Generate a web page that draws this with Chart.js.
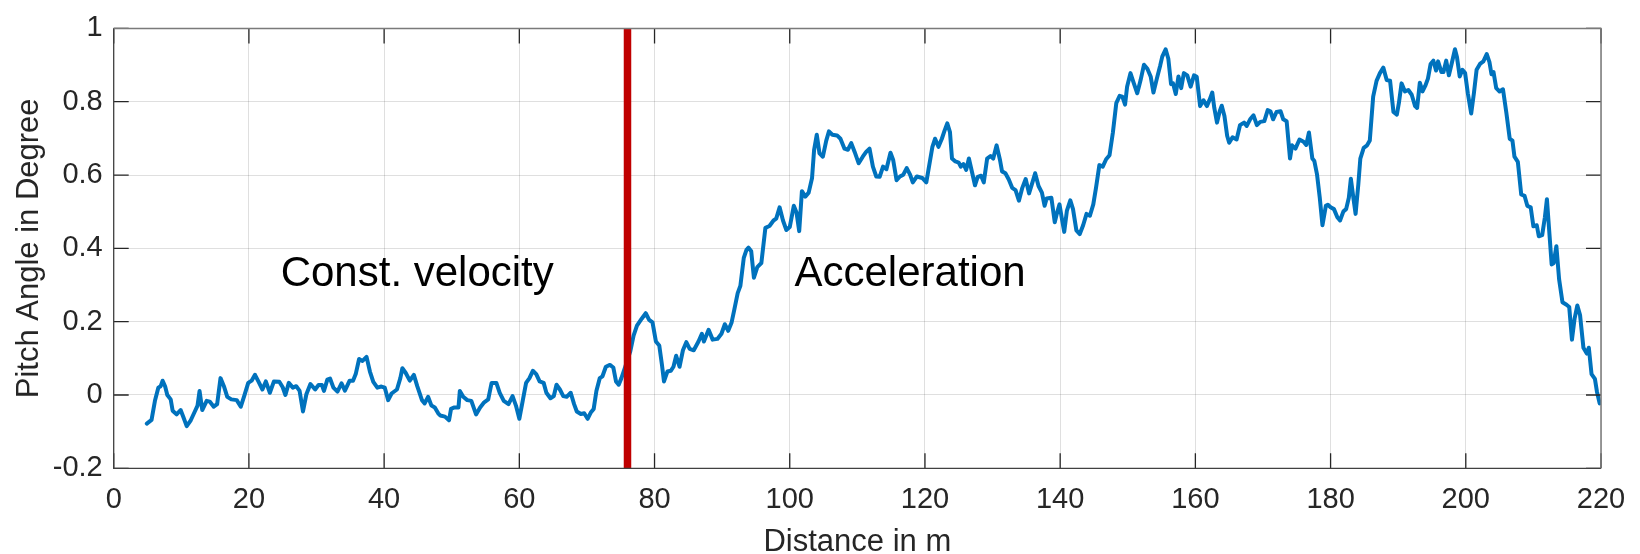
<!DOCTYPE html>
<html>
<head>
<meta charset="utf-8">
<script src="https://cdn.jsdelivr.net/npm/chart.js@4.4.0/dist/chart.umd.min.js"></script>
<style>
    html, body { margin: 0; padding: 0; background: #fff; }
    #wrap { width: 1640px; height: 554px; position: relative; }
</style>
</head>
<body>
<div id="wrap"><canvas id="pitch-chart"></canvas></div>
<script>
// Distance in m
const distance = [
    4.9, 5.6, 6.1, 6.6, 6.95, 7.24, 7.6, 7.93, 8.43, 8.72, 9.3, 9.9, 10.3, 10.8, 11.4, 12.0, 12.4, 12.7, 13.1, 13.75,
    14.2, 14.8, 15.3, 15.8, 16.3, 16.8, 17.4, 18.2, 18.8, 19.3, 19.9, 20.4, 20.9, 21.4, 22.0, 22.5, 23.1, 23.7, 24.5, 25.0,
    25.4, 25.9, 26.5, 27.0, 27.5, 28.0, 28.5, 29.1, 29.8, 30.3, 30.8, 31.1, 31.6, 32.0, 32.5, 33.1, 33.7, 34.2, 34.9, 35.4,
    35.8, 36.3, 36.8, 37.4, 37.9, 38.4, 39.0, 39.6, 40.1, 40.6, 41.1, 41.9, 42.4, 42.7, 43.2, 43.8, 44.4, 44.9, 45.6, 46.0,
    46.5, 47.0, 47.5, 48.0, 48.3, 49.0, 49.6, 49.9, 50.4, 51.0, 51.2, 51.7, 52.3, 52.9, 53.6, 54.2, 54.8, 55.4, 55.9, 56.6,
    57.1, 57.7, 58.4, 59.0, 59.5, 60.0, 60.5, 61.0, 61.5, 62.0, 62.5, 63.0, 63.6, 64.0, 64.6, 65.1, 65.5, 66.0, 66.5, 67.0,
    67.6, 68.1, 68.5, 69.1, 69.6, 70.1, 70.6, 71.0, 71.4, 71.9, 72.3, 72.8, 73.4, 73.9, 74.3, 74.7, 75.1, 75.6, 76.4, 76.9,
    77.4, 78.1, 78.7, 79.2, 79.7, 80.2, 80.7, 81.1, 81.4, 81.9, 82.4, 82.8, 83.2, 83.7, 84.2, 84.7, 85.2, 85.8, 86.5, 87.0,
    87.3, 88.0, 88.6, 89.3, 89.9, 90.4, 90.9, 91.4, 91.8, 92.3, 92.7, 93.2, 93.6, 93.9, 94.3, 94.7, 95.2, 95.8, 96.4, 97.0,
    97.6, 98.0, 98.5, 99.0, 99.5, 100.0, 100.6, 101.0, 101.4, 101.8, 102.3, 102.8, 103.3, 103.6, 104.0, 104.4, 104.9, 105.4, 105.8, 106.3,
    107.0, 107.5, 108.1, 108.6, 109.1, 109.6, 110.2, 110.8, 111.3, 111.8, 112.3, 112.8, 113.3, 113.8, 114.3, 114.9, 115.3, 115.8, 116.3, 116.8,
    117.3, 117.8, 118.2, 118.8, 119.6, 120.2, 120.7, 121.1, 121.5, 122.0, 122.5, 122.9, 123.3, 123.7, 124.0, 124.5, 125.0, 125.3, 125.7, 126.1,
    126.5, 127.0, 127.4, 127.8, 128.3, 128.7, 129.2, 129.7, 130.1, 130.6, 131.1, 131.4, 131.9, 132.4, 132.9, 133.4, 133.9, 134.4, 134.9, 135.4,
    135.9, 136.3, 136.8, 137.3, 137.7, 138.0, 138.7, 139.2, 139.5, 139.9, 140.3, 140.6, 141.0, 141.5, 141.9, 142.4, 142.9, 143.4, 143.9, 144.4,
    144.9, 145.3, 145.8, 146.3, 146.8, 147.3, 147.8, 148.3, 148.8, 149.2, 149.6, 149.9, 150.4, 150.9, 151.4, 151.9, 152.4, 152.9, 153.4, 153.8,
    154.3, 154.8, 155.1, 155.6, 156.0, 156.4, 156.7, 157.1, 157.5, 157.9, 158.3, 158.8, 159.3, 159.8, 160.2, 160.7, 161.2, 161.7, 162.1, 162.5,
    162.8, 163.2, 163.6, 163.9, 164.3, 164.7, 165.0, 165.5, 166.1, 166.6, 167.2, 167.6, 168.1, 168.6, 169.1, 169.6, 170.2, 170.7, 171.1, 171.5,
    172.0, 172.6, 173.0, 173.5, 174.0, 174.3, 174.8, 175.4, 176.0, 176.4, 176.8, 177.3, 177.6, 178.0, 178.4, 178.8, 179.3, 179.6, 180.0, 180.5,
    181.0, 181.4, 181.9, 182.3, 182.7, 183.0, 183.4, 183.7, 184.1, 184.4, 184.9, 185.4, 185.8, 186.3, 186.8, 187.3, 187.8, 188.3, 188.8, 189.3,
    189.8, 190.1, 190.5, 191.0, 191.5, 192.0, 192.5, 192.8, 193.2, 193.6, 194.0, 194.4, 194.8, 195.2, 195.6, 195.9, 196.4, 196.7, 197.1, 197.5,
    197.9, 198.4, 198.7, 199.1, 199.5, 199.9, 200.3, 200.8, 201.2, 201.6, 202.1, 202.6, 203.1, 203.5, 203.8, 204.1, 204.5, 205.0, 205.5, 206.0,
    206.5, 206.9, 207.2, 207.7, 208.2, 208.7, 209.1, 209.6, 210.0, 210.5, 210.8, 211.3, 211.7, 212.0, 212.3, 212.7, 213.0, 213.4, 213.8, 214.3,
    214.9, 215.3, 215.7, 216.1, 216.5, 216.9, 217.4, 217.9, 218.2, 218.6, 219.1, 219.4, 219.8
];

// Pitch angle in degree
const pitch = [
    -0.078, -0.068, -0.016, 0.02, 0.024, 0.039, 0.024, 0, -0.012, -0.043, -0.053, -0.041, -0.06, -0.085, -0.069, -0.045, -0.029, 0.011, -0.041, -0.016,
    -0.018, -0.032, -0.025, 0.046, 0.024, -0.005, -0.012, -0.014, -0.032, -0.003, 0.033, 0.039, 0.055, 0.037, 0.015, 0.037, 0.006, 0.037, 0.036, 0.021,
    0, 0.033, 0.02, 0.024, 0.011, -0.045, 0.002, 0.03, 0.015, 0.027, 0.027, 0.011, 0.042, 0.045, 0.02, 0.009, 0.032, 0.012, 0.039, 0.039,
    0.057, 0.098, 0.093, 0.104, 0.064, 0.036, 0.02, 0.023, 0.02, -0.014, 0.004, 0.015, 0.046, 0.073, 0.06, 0.039, 0.055, 0.024, -0.014, -0.023,
    -0.005, -0.029, -0.034, -0.05, -0.056, -0.059, -0.069, -0.038, -0.034, -0.034, 0.011, -0.005, -0.014, -0.016, -0.053, -0.034, -0.02, -0.012, 0.033, 0.033,
    0.006, -0.016, -0.025, -0.003, -0.029, -0.065, -0.016, 0.033, 0.046, 0.066, 0.057, 0.037, 0.033, 0.006, -0.009, -0.003, 0.028, 0.015, -0.003, -0.005,
    0.006, -0.025, -0.045, -0.052, -0.05, -0.065, -0.047, -0.038, 0.011, 0.046, 0.051, 0.077, 0.082, 0.075, 0.037, 0.028, 0.046, 0.073, 0.118, 0.162,
    0.189, 0.208, 0.223, 0.205, 0.198, 0.146, 0.135, 0.082, 0.037, 0.064, 0.066, 0.077, 0.107, 0.077, 0.122, 0.144, 0.126, 0.122, 0.146, 0.167,
    0.146, 0.178, 0.151, 0.153, 0.167, 0.193, 0.175, 0.198, 0.233, 0.278, 0.298, 0.374, 0.396, 0.402, 0.392, 0.32, 0.349, 0.36, 0.456, 0.461,
    0.476, 0.481, 0.512, 0.476, 0.45, 0.458, 0.516, 0.498, 0.447, 0.556, 0.541, 0.552, 0.592, 0.668, 0.71, 0.659, 0.65, 0.694, 0.719, 0.71,
    0.708, 0.699, 0.672, 0.669, 0.687, 0.663, 0.632, 0.65, 0.663, 0.672, 0.623, 0.596, 0.595, 0.623, 0.616, 0.661, 0.641, 0.586, 0.596, 0.601,
    0.619, 0.601, 0.58, 0.596, 0.592, 0.58, 0.634, 0.677, 0.699, 0.677, 0.699, 0.721, 0.741, 0.717, 0.645, 0.637, 0.634, 0.623, 0.63, 0.614,
    0.645, 0.605, 0.572, 0.595, 0.598, 0.58, 0.645, 0.652, 0.645, 0.681, 0.641, 0.61, 0.605, 0.588, 0.565, 0.559, 0.53, 0.565, 0.589, 0.55,
    0.58, 0.605, 0.57, 0.552, 0.516, 0.536, 0.538, 0.471, 0.494, 0.52, 0.476, 0.445, 0.503, 0.531, 0.507, 0.449, 0.439, 0.463, 0.494, 0.489,
    0.52, 0.565, 0.627, 0.623, 0.643, 0.654, 0.716, 0.796, 0.816, 0.814, 0.792, 0.841, 0.878, 0.85, 0.823, 0.859, 0.901, 0.89, 0.868, 0.825,
    0.863, 0.899, 0.923, 0.943, 0.917, 0.848, 0.85, 0.821, 0.869, 0.837, 0.878, 0.872, 0.841, 0.872, 0.868, 0.788, 0.804, 0.788, 0.805, 0.825,
    0.783, 0.743, 0.774, 0.789, 0.761, 0.707, 0.688, 0.703, 0.697, 0.736, 0.743, 0.734, 0.752, 0.763, 0.736, 0.745, 0.747, 0.777, 0.774, 0.752,
    0.772, 0.774, 0.752, 0.747, 0.645, 0.681, 0.672, 0.697, 0.691, 0.682, 0.716, 0.645, 0.638, 0.601, 0.538, 0.463, 0.516, 0.519, 0.512, 0.507,
    0.485, 0.476, 0.501, 0.507, 0.538, 0.59, 0.534, 0.494, 0.574, 0.645, 0.674, 0.681, 0.694, 0.814, 0.857, 0.878, 0.893, 0.859, 0.857, 0.772,
    0.765, 0.796, 0.85, 0.828, 0.832, 0.819, 0.788, 0.783, 0.852, 0.828, 0.843, 0.863, 0.903, 0.912, 0.885, 0.91, 0.881, 0.881, 0.912, 0.872,
    0.903, 0.943, 0.921, 0.869, 0.887, 0.878, 0.823, 0.768, 0.823, 0.887, 0.903, 0.91, 0.93, 0.908, 0.875, 0.881, 0.837, 0.828, 0.834, 0.77,
    0.699, 0.694, 0.65, 0.636, 0.547, 0.543, 0.516, 0.512, 0.46, 0.463, 0.433, 0.436, 0.485, 0.534, 0.458, 0.356, 0.36, 0.406, 0.316, 0.253,
    0.246, 0.24, 0.151, 0.209, 0.244, 0.218, 0.129, 0.113, 0.129, 0.057, 0.044, 0.009, -0.023
];

const xTicks = [0, 20, 40, 60, 80, 100, 120, 140, 160, 180, 200, 220];
const yTicks = [-0.2, 0, 0.2, 0.4, 0.6, 0.8, 1];

// phase boundary and labels
const phaseChangeAt = 76;
const phaseLabels = ['Const. velocity', 'Acceleration'];
const phaseLabelX = [24.7, 100.7];
const phaseLabelY = 0.296;

const FONT = '"Liberation Sans", Arial, Helvetica, sans-serif';
const AXIS_COLOR = '#262626';

// MATLAB style box, inward ticks and text labels
const matlabAxes = {
    id: 'matlabAxes',
    afterDatasetsDraw(chart) {
        const { ctx, chartArea: a, scales: { x, y } } = chart;
        ctx.save();

        ctx.fillStyle = '#000';
        ctx.font = '42px ' + FONT;
        ctx.textAlign = 'left';
        ctx.textBaseline = 'alphabetic';
        phaseLabels.forEach((t, i) => {
            ctx.fillText(t, x.getPixelForValue(phaseLabelX[i]), y.getPixelForValue(phaseLabelY));
        });

        const tl = 15;
        ctx.strokeStyle = AXIS_COLOR;
        ctx.lineWidth = 1.3;
        ctx.beginPath();
        xTicks.forEach(v => {
            const px = x.getPixelForValue(v);
            ctx.moveTo(px, a.bottom); ctx.lineTo(px, a.bottom - tl);
            ctx.moveTo(px, a.top); ctx.lineTo(px, a.top + tl);
        });
        yTicks.forEach(v => {
            const py = y.getPixelForValue(v);
            ctx.moveTo(a.left, py); ctx.lineTo(a.left + tl, py);
            ctx.moveTo(a.right, py); ctx.lineTo(a.right - tl, py);
        });
        ctx.stroke();

        // box
        ctx.strokeStyle = '#404040';
        ctx.beginPath();
        ctx.moveTo(a.left, a.top); ctx.lineTo(a.left, a.bottom); ctx.lineTo(a.right, a.bottom);
        ctx.stroke();
        ctx.strokeStyle = '#7a7a7a';
        ctx.lineWidth = 1.5;
        ctx.beginPath();
        ctx.moveTo(a.left, a.top); ctx.lineTo(a.right, a.top); ctx.lineTo(a.right, a.bottom);
        ctx.stroke();

        ctx.restore();
    }
};

const chart = new Chart(document.getElementById('pitch-chart'), {
    type: 'line',
    data: {
        datasets: [
            {
                label: 'Phase change',
                data: [{ x: phaseChangeAt, y: yTicks[0] }, { x: phaseChangeAt, y: yTicks[yTicks.length - 1] }],
                borderColor: '#C00000',
                borderWidth: 7.5,
                pointRadius: 0,
                order: 0
            },
            {
                label: 'Pitch angle',
                data: distance.map((d, i) => ({ x: d, y: pitch[i] })),
                borderColor: '#0072BD',
                borderWidth: 4,
                borderJoinStyle: 'round',
                borderCapStyle: 'round',
                pointRadius: 0,
                tension: 0,
                order: 1
            }
        ]
    },
    options: {
        responsive: true,
        maintainAspectRatio: false,
        animation: false,
        layout: { padding: { top: 19, right: 39, bottom: 0, left: 0 } },
        plugins: {
            legend: { display: false },
            tooltip: { enabled: false }
        },
        scales: {
            x: {
                type: 'linear',
                min: 0,
                max: 220,
                afterBuildTicks: s => { s.ticks = xTicks.map(v => ({ value: v })); },
                afterFit: s => { s.height = 85.7; },
                grid: { color: 'rgba(38,38,38,0.15)', lineWidth: 1, drawTicks: false },
                border: { display: false },
                ticks: {
                    autoSkip: false,
                    maxRotation: 0,
                    padding: 14,
                    color: AXIS_COLOR,
                    font: { family: FONT, size: 29 }
                },
                title: {
                    display: true,
                    text: 'Distance in m',
                    color: AXIS_COLOR,
                    font: { family: FONT, size: 31, lineHeight: 0.75 },
                    padding: 0
                }
            },
            y: {
                type: 'linear',
                min: -0.2,
                max: 1,
                afterBuildTicks: s => { s.ticks = yTicks.map(v => ({ value: v })); },
                afterFit: s => { s.width = 113.7; },
                grid: { color: 'rgba(38,38,38,0.15)', lineWidth: 1, drawTicks: false },
                border: { display: false },
                ticks: {
                    padding: 11,
                    color: AXIS_COLOR,
                    font: { family: FONT, size: 29 },
                    callback: v => String(Math.round(v * 10) / 10)
                },
                title: {
                    display: true,
                    text: 'Pitch Angle in Degree',
                    color: AXIS_COLOR,
                    font: { family: FONT, size: 31, lineHeight: 0.8 },
                    padding: { top: 17, bottom: 0 }
                }
            }
        }
    },
    plugins: [matlabAxes]
});
</script>
</body>
</html>
